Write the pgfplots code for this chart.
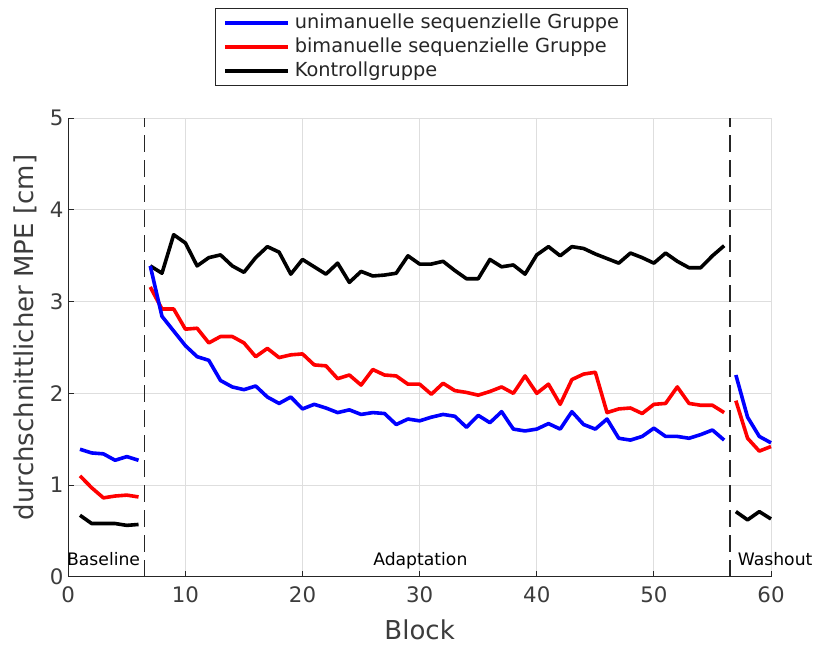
\documentclass[border=0pt]{standalone}
\usepackage{fontspec}
\setmainfont{DejaVu Sans}
\usepackage{pgfplots}
\pgfplotsset{compat=1.18}
\definecolor{axgray}{RGB}{38,38,38}
\definecolor{gridgray}{RGB}{222,222,222}
\definecolor{tickgray}{RGB}{60,60,60}
\definecolor{mblue}{RGB}{0,0,255}
\definecolor{mred}{RGB}{255,0,0}

\begin{document}
\begin{tikzpicture}
\begin{axis}[name=ax,
  scale only axis, width=527pt, height=343.8pt,
  xmin=0, xmax=60, ymin=0, ymax=5,
  xtick={0,10,...,60}, ytick={0,1,...,5},
  axis x line*=bottom, axis y line*=left,
  axis line style={axgray, line width=0.75pt, -},
  tick align=inside, major tick length=4pt,
  tick style={axgray, line width=0.75pt},
  grid=major, major grid style={gridgray, line width=0.75pt},
  clip=false,
  unbounded coords=jump,
  /pgf/number format/assume math mode=true,
  ticklabel style={font=\fontsize{16}{19}\selectfont, text=tickgray},
  xticklabel style={yshift=-4.2pt},
  xlabel={Block}, ylabel={durchschnittlicher MPE [cm]},
  label style={font=\fontsize{19.5}{23}\selectfont, text=tickgray},
  xlabel style={at={(axis description cs:0.5,-0.138)}, anchor=base},
  ylabel style={at={(axis description cs:-0.0495,0.522)}, anchor=base},
  reverse legend,
  legend image code/.code={\draw[#1] (0pt,0pt) -- (47pt,0pt);},
  legend style={at={(0.2088,1.2406)}, anchor=north west,
    draw=axgray, line width=0.75pt, fill=white,
    font=\fontsize{14.5}{17}\selectfont, text=axgray,
    inner xsep=6pt, inner ysep=4pt, row sep=4.3pt, column sep=3.75pt,
    nodes={inner sep=0pt, text height=10.8pt, text depth=2.9pt},
    cells={anchor=west}},
]
% phase separators
\addplot[forget plot, axgray, line width=1pt, dash pattern=on 12.5pt off 6.25pt] coordinates {(6.5,0) (6.5,5)};
\addplot[forget plot, axgray, line width=1pt, dash pattern=on 12.5pt off 6.25pt] coordinates {(56.5,0) (56.5,5)};

% Kontrollgruppe
\addplot[black, line width=2.7pt, line join=round] coordinates {
(1,0.67)(2,0.58)(3,0.58)(4,0.58)(5,0.56)(6,0.57)
(6.5,nan)
(7,3.39)(8,3.31)(9,3.73)(10,3.64)(11,3.39)(12,3.48)(13,3.51)(14,3.39)(15,3.32)(16,3.48)
(17,3.60)(18,3.54)(19,3.30)(20,3.46)(21,3.38)(22,3.30)(23,3.42)(24,3.21)(25,3.33)(26,3.28)
(27,3.29)(28,3.31)(29,3.50)(30,3.41)(31,3.41)(32,3.44)(33,3.34)(34,3.25)(35,3.25)(36,3.46)
(37,3.38)(38,3.40)(39,3.30)(40,3.51)(41,3.60)(42,3.50)(43,3.60)(44,3.58)(45,3.52)(46,3.47)
(47,3.42)(48,3.53)(49,3.48)(50,3.42)(51,3.53)(52,3.44)(53,3.37)(54,3.37)(55,3.50)(56,3.61)
(56.5,nan)
(57,0.71)(58,0.62)(59,0.71)(60,0.63)
};
\addlegendentry{Kontrollgruppe}

% bimanuelle Gruppe
\addplot[mred, line width=2.7pt, line join=round] coordinates {
(1,1.10)(2,0.97)(3,0.86)(4,0.88)(5,0.89)(6,0.87)
(6.5,nan)
(7,3.16)(8,2.92)(9,2.92)(10,2.70)(11,2.71)(12,2.55)(13,2.62)(14,2.62)(15,2.55)(16,2.40)
(17,2.49)(18,2.39)(19,2.42)(20,2.43)(21,2.31)(22,2.30)(23,2.16)(24,2.20)(25,2.09)(26,2.26)
(27,2.20)(28,2.19)(29,2.10)(30,2.10)(31,1.99)(32,2.11)(33,2.03)(34,2.01)(35,1.98)(36,2.02)
(37,2.07)(38,2.00)(39,2.19)(40,2.00)(41,2.10)(42,1.88)(43,2.15)(44,2.21)(45,2.23)(46,1.79)
(47,1.83)(48,1.84)(49,1.78)(50,1.88)(51,1.89)(52,2.07)(53,1.89)(54,1.87)(55,1.87)(56,1.79)
(56.5,nan)
(57,1.92)(58,1.51)(59,1.37)(60,1.42)
};
\addlegendentry{bimanuelle sequenzielle Gruppe}

% unimanuelle Gruppe
\addplot[mblue, line width=2.7pt, line join=round] coordinates {
(1,1.39)(2,1.35)(3,1.34)(4,1.27)(5,1.31)(6,1.27)
(6.5,nan)
(7,3.39)(8,2.84)(9,2.68)(10,2.52)(11,2.40)(12,2.36)(13,2.14)(14,2.07)(15,2.04)(16,2.08)
(17,1.96)(18,1.89)(19,1.96)(20,1.83)(21,1.88)(22,1.84)(23,1.79)(24,1.82)(25,1.77)(26,1.79)
(27,1.78)(28,1.66)(29,1.72)(30,1.70)(31,1.74)(32,1.77)(33,1.75)(34,1.63)(35,1.76)(36,1.68)
(37,1.80)(38,1.61)(39,1.59)(40,1.61)(41,1.67)(42,1.61)(43,1.80)(44,1.66)(45,1.61)(46,1.72)
(47,1.51)(48,1.49)(49,1.53)(50,1.62)(51,1.53)(52,1.53)(53,1.51)(54,1.55)(55,1.60)(56,1.49)
(56.5,nan)
(57,2.20)(58,1.74)(59,1.53)(60,1.46)
};
\addlegendentry{unimanuelle sequenzielle Gruppe}

\node[anchor=base west, inner sep=0pt, font=\fontsize{12.9}{15}\selectfont] at (axis cs:-0.12,0.12) {Baseline};
\node[anchor=base, inner sep=0pt, font=\fontsize{12.9}{15}\selectfont] at (axis cs:30.06,0.12) {Adaptation};
\node[anchor=base west, inner sep=0pt, font=\fontsize{12.9}{15}\selectfont] at (axis cs:57.15,0.12) {Washout};
\end{axis}
\pgfresetboundingbox
\path[use as bounding box] ([shift={(-51.2pt,-51.2pt)}]ax.south west) rectangle ([shift={(33pt,88.7pt)}]ax.north east);
\end{tikzpicture}
\end{document}
